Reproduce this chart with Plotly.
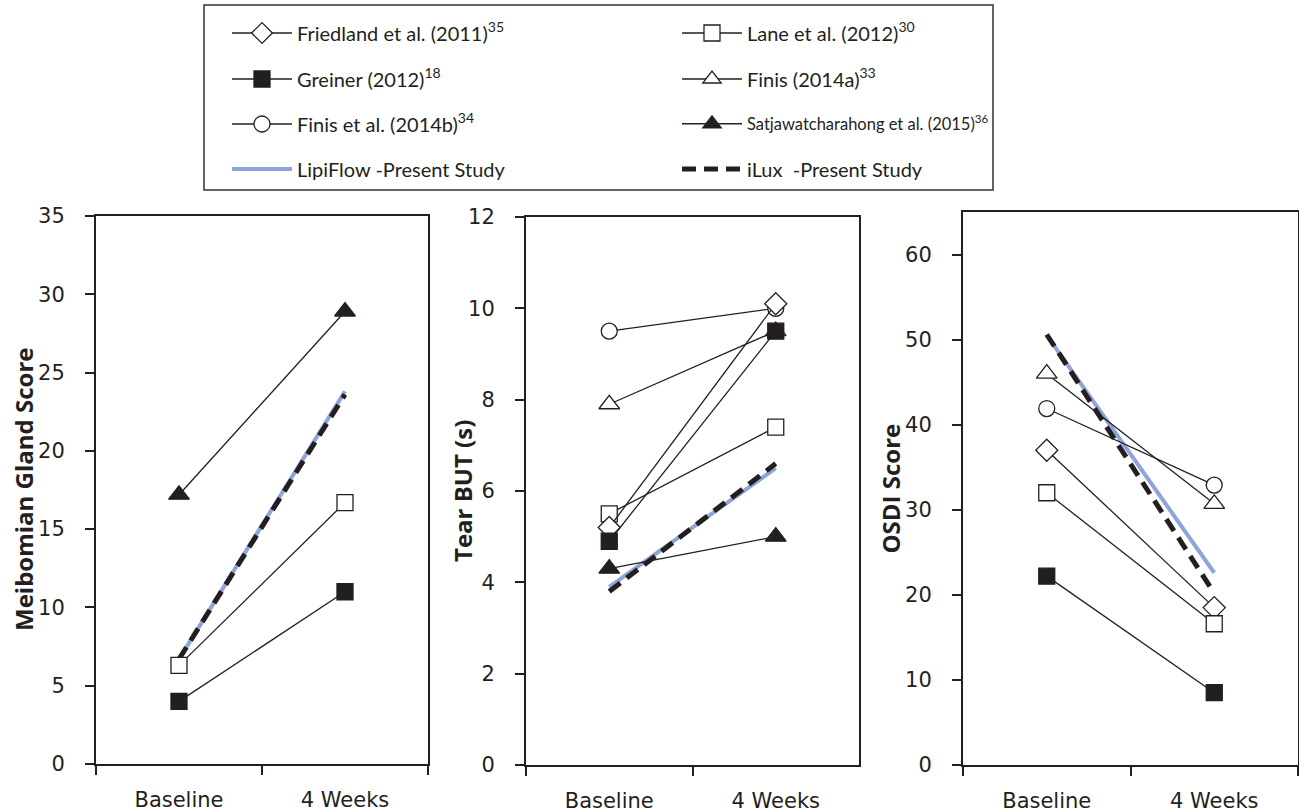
import plotly.graph_objects as go

# ---------------- data ----------------
timepoints = ["Baseline", "4 Weeks"]

# Meibomian Gland Score
mgs_lane = [6.3, 16.7]
mgs_greiner = [4.0, 11.0]
mgs_satja = [17.2, 28.9]
mgs_lipiflow = [6.7, 23.8]
mgs_ilux = [6.7, 23.6]

# Tear BUT (s)
but_friedland = [5.2, 10.1]
but_lane = [5.5, 7.4]
but_greiner = [4.9, 9.5]
but_finis_a = [7.9, 9.5]
but_finis_b = [9.5, 10.0]
but_satja = [4.3, 5.0]
but_lipiflow = [3.9, 6.5]
but_ilux = [3.8, 6.6]

# OSDI Score
osdi_friedland = [37.0, 18.5]
osdi_lane = [32.0, 16.6]
osdi_greiner = [22.2, 8.5]
osdi_finis_a = [46.0, 30.7]
osdi_finis_b = [41.9, 32.9]
osdi_lipiflow = [50.5, 22.6]
osdi_ilux = [50.6, 20.2]

legend_names = {
    "friedland": "Friedland et al. (2011)<sup>35</sup>",
    "lane": "Lane et al. (2012)<sup>30</sup>",
    "greiner": "Greiner (2012)<sup>18</sup>",
    "finis_a": "Finis (2014a)<sup>33</sup>",
    "finis_b": "Finis et al. (2014b)<sup>34</sup>",
    "satja": "Satjawatcharahong et al. (2015)<sup>36</sup>",
    "lipiflow": "LipiFlow -Present Study",
    "ilux": "iLux  -Present Study",
}

# ---------------- styles ----------------
W, H = 1299, 812
INK = "#231f20"
BLUE = "#8FA4DA"

marker_style = {
    "friedland": dict(symbol="diamond", size=17, color="white"),
    "lane": dict(symbol="square", size=16, color="white"),
    "greiner": dict(symbol="square", size=16, color=INK),
    "finis_a": dict(symbol="triangle-up", size=18, color="white"),
    "finis_b": dict(symbol="circle", size=16, color="white"),
    "satja": dict(symbol="triangle-up", size=18, color=INK),
}
# legend slot: (legend id, column x of symbol start px, row centre y px, font size)
legend_slots = {
    "friedland": ("legend", 233, 33, 20),
    "lane": ("legend2", 683, 33, 20),
    "greiner": ("legend3", 233, 79, 20),
    "finis_a": ("legend4", 683, 79, 20),
    "finis_b": ("legend5", 233, 124, 20),
    "satja": ("legend6", 683, 124, 16.5),
    "lipiflow": ("legend7", 233, 169, 20),
    "ilux": ("legend8", 683, 169, 20),
}

fig = go.Figure()
shown = set()


def add(key, values, axis_idx):
    xa = "x" if axis_idx == 1 else f"x{axis_idx}"
    ya = "y" if axis_idx == 1 else f"y{axis_idx}"
    show = key not in shown
    shown.add(key)
    common = dict(x=timepoints, y=values, xaxis=xa, yaxis=ya,
                  name=legend_names[key], legendgroup=key,
                  legend=legend_slots[key][0], showlegend=show,
                  hoverinfo="skip")
    if key == "lipiflow":
        fig.add_trace(go.Scatter(mode="lines",
                                 line=dict(color=BLUE, width=4), **common))
    elif key == "ilux":
        fig.add_trace(go.Scatter(mode="lines",
                                 line=dict(color=INK, width=5, dash="14px,8px"),
                                 **common))
    else:
        m = marker_style[key]
        fig.add_trace(go.Scatter(
            mode="lines+markers",
            line=dict(color=INK, width=1.3),
            marker=dict(symbol=m["symbol"], size=m["size"], color=m["color"],
                        line=dict(color=INK, width=1.3)),
            **common))


# Panel 1
add("lipiflow", mgs_lipiflow, 1)
add("ilux", mgs_ilux, 1)
add("satja", mgs_satja, 1)
add("lane", mgs_lane, 1)
add("greiner", mgs_greiner, 1)
# Panel 2
add("lipiflow", but_lipiflow, 2)
add("ilux", but_ilux, 2)
add("finis_b", but_finis_b, 2)
add("finis_a", but_finis_a, 2)
add("satja", but_satja, 2)
add("lane", but_lane, 2)
add("friedland", but_friedland, 2)
add("greiner", but_greiner, 2)
# Panel 3
add("lipiflow", osdi_lipiflow, 3)
add("ilux", osdi_ilux, 3)
add("finis_a", osdi_finis_a, 3)
add("finis_b", osdi_finis_b, 3)
add("friedland", osdi_friedland, 3)
add("lane", osdi_lane, 3)
add("greiner", osdi_greiner, 3)

# ---------------- layout ----------------
panels = [
    # x0, x1, ytop, ybottom (px), y max, dtick, title, title x
    (96, 428, 216, 764, 35, 5, "Meibomian Gland Score", 23),
    (526, 859, 217, 765, 12, 2, "Tear BUT (s)", 462),
    (963, 1298, 212, 765, 65, 10, "OSDI Score", 890),
]

tickfont = dict(family="DejaVu Sans", size=21, color=INK)
layout = dict(
    width=W, height=H,
    margin=dict(l=0, r=0, t=0, b=0, autoexpand=False),
    paper_bgcolor="white", plot_bgcolor="white",
    showlegend=True,
    shapes=[dict(type="rect", xref="paper", yref="paper",
                 x0=204 / W, x1=993 / W, y0=1 - 190 / H, y1=1 - 5 / H,
                 line=dict(color="#333333", width=1.5), layer="below")],
    annotations=[],
)

for key, (lid, sx_px, cy_px, fs) in legend_slots.items():
    layout[lid] = dict(
        orientation="v", x=(sx_px - 6) / W, y=1 - cy_px / H,
        xanchor="left", yanchor="middle",
        bgcolor="rgba(0,0,0,0)", borderwidth=0,
        font=dict(family="Lato", size=fs, color=INK),
        itemwidth=60,
    )

for i, (x0, x1, yt, yb, ymax, dt, title, tx) in enumerate(panels, start=1):
    sx = "" if i == 1 else str(i)
    layout["xaxis" + sx] = dict(
        domain=[x0 / W, x1 / W], anchor="y" + sx,
        type="category", categoryorder="array", categoryarray=timepoints,
        range=[-0.5, 1.5], tickson="boundaries",
        ticks="outside", ticklen=9, tickwidth=1.5, tickcolor=INK,
        showline=True, linecolor=INK, linewidth=2, mirror=True,
        showgrid=False, zeroline=False, tickfont=tickfont,
        ticklabelstandoff=16, fixedrange=True,
    )
    layout["yaxis" + sx] = dict(
        domain=[1 - yb / H, 1 - yt / H], anchor="x" + sx,
        range=[0, ymax], dtick=dt, tick0=0,
        ticks="outside", ticklen=9, tickwidth=1.5, tickcolor=INK,
        showline=True, linecolor=INK, linewidth=2, mirror=True,
        showgrid=False, zeroline=False, tickfont=tickfont,
        ticklabelstandoff=16, fixedrange=True,
    )
    layout["annotations"].append(dict(
        text="<b>" + title + "</b>", textangle=-90,
        x=tx / W, y=1 - ((yt + yb) / 2) / H, xref="paper", yref="paper",
        xanchor="center", yanchor="middle", showarrow=False,
        font=dict(family="Open Sans", size=24, color=INK),
    ))

fig.update_layout(**layout)
fig.write_html("out.html", config={"displayModeBar": False},
               post_script="document.body.style.margin='0px';")
